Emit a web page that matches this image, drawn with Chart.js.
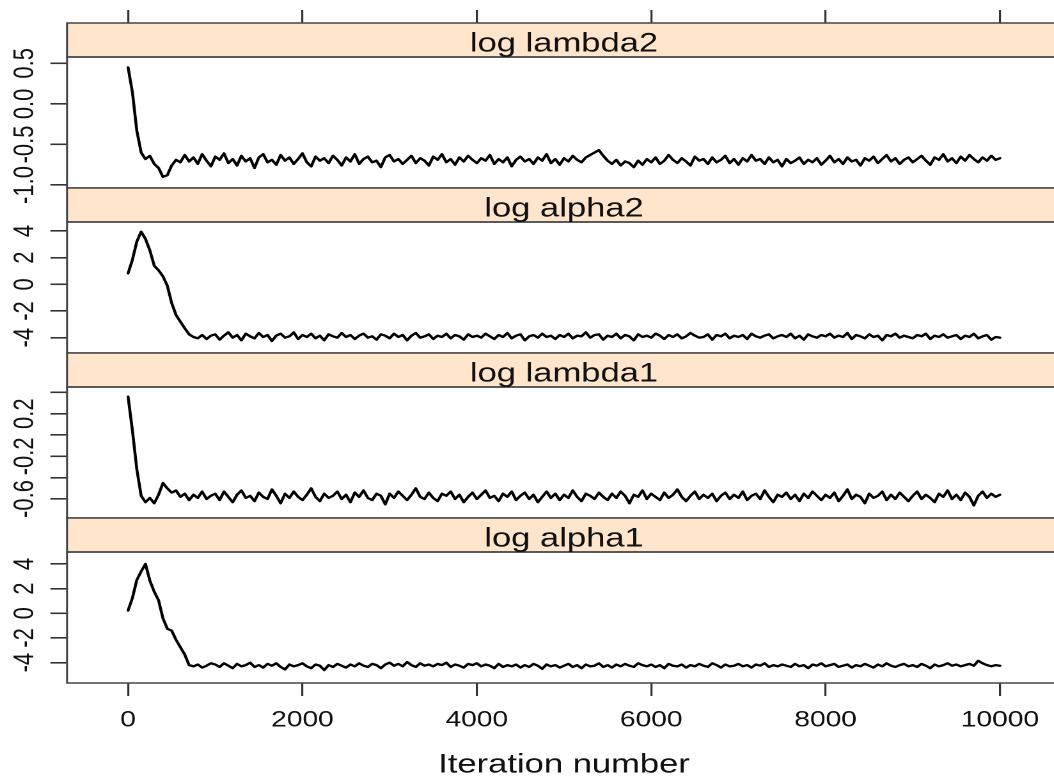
<!DOCTYPE html>
<html>
<head>
<meta charset="utf-8">
<title>MCMC traces</title>
<script src="https://cdn.jsdelivr.net/npm/chart.js@4/dist/chart.umd.min.js"></script>
<style>
  html, body { margin: 0; padding: 0; overflow: hidden; background: #fff; }
  body { width: 1054px; height: 783px; }
  /* the reference is stretched sideways, so the canvas is drawn narrow and widened */
  #wrap { width: 832px; height: 783px; transform: scaleX(1.2791); transform-origin: 0 0; }
</style>
</head>
<body>
<div id="wrap"><canvas id="traces" width="832" height="783"></canvas></div>
<script>
// Iterations (every 50th draw of the chain)
const iterations = [
  0, 50, 100, 150, 200, 250, 300, 350, 400, 450,
  500, 550, 600, 650, 700, 750, 800, 850, 900, 950,
  1000, 1050, 1100, 1150, 1200, 1250, 1300, 1350, 1400, 1450,
  1500, 1550, 1600, 1650, 1700, 1750, 1800, 1850, 1900, 1950,
  2000, 2050, 2100, 2150, 2200, 2250, 2300, 2350, 2400, 2450,
  2500, 2550, 2600, 2650, 2700, 2750, 2800, 2850, 2900, 2950,
  3000, 3050, 3100, 3150, 3200, 3250, 3300, 3350, 3400, 3450,
  3500, 3550, 3600, 3650, 3700, 3750, 3800, 3850, 3900, 3950,
  4000, 4050, 4100, 4150, 4200, 4250, 4300, 4350, 4400, 4450,
  4500, 4550, 4600, 4650, 4700, 4750, 4800, 4850, 4900, 4950,
  5000, 5050, 5100, 5150, 5200, 5250, 5300, 5350, 5400, 5450,
  5500, 5550, 5600, 5650, 5700, 5750, 5800, 5850, 5900, 5950,
  6000, 6050, 6100, 6150, 6200, 6250, 6300, 6350, 6400, 6450,
  6500, 6550, 6600, 6650, 6700, 6750, 6800, 6850, 6900, 6950,
  7000, 7050, 7100, 7150, 7200, 7250, 7300, 7350, 7400, 7450,
  7500, 7550, 7600, 7650, 7700, 7750, 7800, 7850, 7900, 7950,
  8000, 8050, 8100, 8150, 8200, 8250, 8300, 8350, 8400, 8450,
  8500, 8550, 8600, 8650, 8700, 8750, 8800, 8850, 8900, 8950,
  9000, 9050, 9100, 9150, 9200, 9250, 9300, 9350, 9400, 9450,
  9500, 9550, 9600, 9650, 9700, 9750, 9800, 9850, 9900, 9950,
  10000
];

const lambda2 = [
  0.45, 0.14, -0.33, -0.60, -0.68, -0.64, -0.74, -0.79, -0.90, -0.88,
  -0.76, -0.69, -0.72, -0.63, -0.71, -0.66, -0.74, -0.62, -0.70, -0.77,
  -0.65, -0.69, -0.61, -0.73, -0.68, -0.76, -0.64, -0.71, -0.67, -0.79,
  -0.66, -0.62, -0.72, -0.69, -0.75, -0.63, -0.70, -0.66, -0.74, -0.68,
  -0.61, -0.72, -0.77, -0.65, -0.70, -0.67, -0.73, -0.64, -0.69, -0.76,
  -0.66, -0.71, -0.62, -0.74, -0.68, -0.65, -0.72, -0.70, -0.78, -0.66,
  -0.63, -0.71, -0.68, -0.74, -0.69, -0.64, -0.73, -0.67, -0.70, -0.76,
  -0.65, -0.69, -0.62, -0.72, -0.68, -0.75, -0.66, -0.71, -0.64, -0.69,
  -0.73, -0.67, -0.70, -0.63, -0.74, -0.68, -0.72, -0.66, -0.77, -0.69,
  -0.65, -0.71, -0.68, -0.74, -0.66, -0.70, -0.62, -0.73, -0.68, -0.75,
  -0.67, -0.71, -0.64, -0.69, -0.72, -0.66, -0.63, -0.60, -0.57, -0.64,
  -0.70, -0.74, -0.69, -0.76, -0.71, -0.73, -0.78, -0.70, -0.75, -0.68,
  -0.72, -0.66, -0.74, -0.70, -0.63, -0.69, -0.73, -0.67, -0.71, -0.76,
  -0.65, -0.70, -0.68, -0.74, -0.66, -0.72, -0.69, -0.64, -0.73, -0.68,
  -0.75, -0.67, -0.71, -0.63, -0.70, -0.68, -0.74, -0.66, -0.72, -0.69,
  -0.77, -0.68, -0.73, -0.70, -0.66, -0.74, -0.69, -0.72, -0.67, -0.75,
  -0.70, -0.64, -0.72, -0.68, -0.74, -0.66, -0.71, -0.69, -0.76, -0.67,
  -0.70, -0.65, -0.73, -0.68, -0.63, -0.71, -0.67, -0.74, -0.69, -0.66,
  -0.72, -0.68, -0.64, -0.70, -0.75, -0.66, -0.69, -0.62, -0.71, -0.67,
  -0.73, -0.65, -0.70, -0.63, -0.68, -0.72, -0.66, -0.70, -0.64, -0.69,
  -0.67
];

const alpha2 = [
  0.82, 1.85, 3.20, 3.95, 3.40, 2.55, 1.40, 1.05, 0.60, -0.10,
  -1.40, -2.30, -2.80, -3.30, -3.75, -3.95, -4.05, -3.80, -4.10, -3.85,
  -3.75, -4.15, -3.85, -3.60, -4.00, -3.80, -4.20, -3.70, -3.90, -4.05,
  -3.65, -3.95, -3.80, -4.25, -3.85, -3.70, -4.00, -3.90, -3.60, -4.10,
  -3.80, -3.95, -3.70, -4.05, -3.85, -4.20, -3.75, -3.90, -4.00, -3.65,
  -3.95, -3.80, -4.10, -3.85, -3.70, -4.00, -3.90, -4.15, -3.75, -3.85,
  -4.05, -3.70, -3.95, -3.80, -4.20, -3.85, -3.65, -4.00, -3.90, -3.75,
  -4.10, -3.85, -3.95, -3.70, -4.05, -3.80, -3.90, -4.15, -3.75, -3.95,
  -3.85, -4.00, -3.70, -3.90, -4.10, -3.80, -3.95, -3.65, -4.05, -3.85,
  -3.75, -4.20, -3.90, -3.80, -4.00, -3.70, -3.95, -3.85, -4.10, -3.80,
  -3.95, -3.70, -4.05, -3.85, -3.90, -3.60, -4.00, -3.80, -3.75, -4.15,
  -3.85, -3.95, -3.70, -4.05, -3.80, -3.90, -4.20, -3.75, -3.95, -3.85,
  -4.00, -3.70, -3.85, -4.10, -3.80, -3.95, -3.75, -4.05, -3.90, -3.65,
  -3.85, -4.00, -3.95, -3.75, -4.15, -3.80, -3.90, -3.70, -4.05, -3.85,
  -3.95, -3.80, -4.10, -3.70, -3.90, -4.00, -3.85, -3.75, -4.05, -3.90,
  -3.80, -3.95, -3.70, -4.05, -3.85, -4.15, -3.75, -3.90, -4.00, -3.80,
  -3.90, -3.70, -4.00, -3.85, -3.95, -3.65, -4.10, -3.80, -3.90, -4.05,
  -3.75, -3.95, -3.85, -4.20, -3.80, -3.90, -3.70, -4.00, -3.85, -3.95,
  -4.05, -3.80, -3.90, -3.70, -4.10, -3.85, -3.95, -3.75, -4.00, -3.90,
  -3.80, -4.10, -3.85, -3.95, -3.70, -4.05, -3.90, -3.80, -4.15, -3.95,
  -4.00
];

const lambda1 = [
  0.36, 0.04, -0.32, -0.57, -0.63, -0.59, -0.64, -0.56, -0.45, -0.50,
  -0.54, -0.52, -0.58, -0.55, -0.61, -0.56, -0.59, -0.53, -0.60, -0.57,
  -0.55, -0.61, -0.53, -0.58, -0.63, -0.56, -0.52, -0.59, -0.57, -0.62,
  -0.54, -0.58, -0.60, -0.51, -0.57, -0.64, -0.55, -0.59, -0.53, -0.58,
  -0.61, -0.56, -0.50, -0.58, -0.62, -0.55, -0.59, -0.57, -0.53, -0.60,
  -0.56, -0.63, -0.54, -0.58, -0.52, -0.59, -0.61, -0.55, -0.57, -0.65,
  -0.55, -0.59, -0.53, -0.57, -0.61, -0.56, -0.50, -0.58, -0.60, -0.54,
  -0.59, -0.62, -0.55, -0.57, -0.53, -0.60, -0.56, -0.63, -0.58, -0.54,
  -0.60, -0.56, -0.52, -0.59, -0.57, -0.62, -0.55, -0.58, -0.53, -0.61,
  -0.57, -0.54, -0.60, -0.56, -0.63, -0.58, -0.53, -0.59, -0.55, -0.61,
  -0.56, -0.59, -0.52, -0.58, -0.62, -0.55, -0.57, -0.60, -0.54, -0.58,
  -0.61, -0.55, -0.59, -0.53, -0.57, -0.64, -0.56, -0.58, -0.52, -0.60,
  -0.55, -0.58, -0.61, -0.54, -0.59, -0.56, -0.51, -0.58, -0.62, -0.57,
  -0.53, -0.60, -0.56, -0.59, -0.55, -0.62, -0.57, -0.54, -0.60, -0.56,
  -0.59, -0.53, -0.61, -0.57, -0.55, -0.60, -0.52, -0.58, -0.63, -0.56,
  -0.58, -0.54, -0.60, -0.56, -0.62, -0.55, -0.59, -0.53, -0.57, -0.61,
  -0.56, -0.59, -0.54, -0.62, -0.57, -0.51, -0.60, -0.56, -0.58, -0.64,
  -0.55, -0.59, -0.57, -0.53, -0.61, -0.56, -0.60, -0.54, -0.58, -0.62,
  -0.57, -0.53, -0.60, -0.56, -0.59, -0.63, -0.55, -0.58, -0.52, -0.60,
  -0.56, -0.61, -0.54, -0.58, -0.66, -0.57, -0.53, -0.59, -0.55, -0.58,
  -0.56
];

const alpha1 = [
  0.22, 1.25, 2.70, 3.40, 4.00, 2.65, 1.75, 1.05, -0.40, -1.25,
  -1.40, -2.15, -2.75, -3.35, -4.20, -4.30, -4.15, -4.40, -4.25, -4.05,
  -4.15, -4.35, -4.05, -4.25, -4.45, -4.10, -4.30, -4.20, -4.00, -4.35,
  -4.20, -4.40, -4.10, -4.25, -4.05, -4.35, -4.55, -4.15, -4.30, -4.20,
  -4.05, -4.30, -4.45, -4.15, -4.25, -4.60, -4.20, -4.35, -4.10, -4.25,
  -4.40, -4.15, -4.30, -4.05, -4.25, -4.35, -4.10, -4.20, -4.45, -4.15,
  -4.00, -4.25, -4.10, -4.30, -3.95, -4.20, -4.35, -4.05, -4.25, -4.15,
  -4.30, -4.10, -4.20, -4.00, -4.35, -4.15, -4.25, -4.40, -4.10, -4.20,
  -4.05, -4.30, -4.15, -4.25, -4.45, -4.10, -4.35, -4.20, -4.30, -4.15,
  -4.40, -4.20, -4.35, -4.10, -4.25, -4.50, -4.15, -4.30, -4.20, -4.40,
  -4.25, -4.10, -4.35, -4.20, -4.45, -4.15, -4.30, -4.25, -4.05, -4.35,
  -4.20, -4.40, -4.15, -4.30, -4.10, -4.25, -4.35, -4.05, -4.20, -4.30,
  -4.15, -4.35, -4.20, -4.45, -4.10, -4.25, -4.30, -4.15, -4.40, -4.20,
  -4.30, -4.10, -4.25, -4.35, -4.05, -4.20, -4.40, -4.15, -4.30, -4.25,
  -4.10, -4.30, -4.20, -4.40, -4.15, -4.25, -4.05, -4.35, -4.20, -4.30,
  -4.15, -4.25, -4.35, -4.10, -4.30, -4.20, -4.45, -4.15, -4.25, -4.05,
  -4.30, -4.20, -4.10, -4.35, -4.25, -4.15, -4.40, -4.20, -4.30, -4.10,
  -4.25, -4.40, -4.15, -4.30, -4.05, -4.25, -4.35, -4.20, -4.10, -4.30,
  -4.20, -4.35, -4.10, -4.25, -4.45, -4.15, -4.30, -4.20, -4.05, -4.25,
  -4.15, -4.30, -4.20, -4.10, -4.25, -3.85, -4.05, -4.20, -4.30, -4.20,
  -4.25
];

// Panels top to bottom, with their strip names and y axis ticks
const panelNames = ["log lambda2", "log alpha2", "log lambda1", "log alpha1"];
const xTicks = [0, 2000, 4000, 6000, 8000, 10000];
const lambda2Ticks = [-1.0, -0.5, 0.0, 0.5];
const lambda2Labels = ["-1.0", "-0.5", "0.0", "0.5"];
const alpha2Ticks = [-4, -2, 0, 2, 4];
const alpha2Labels = ["-4", "-2", "0", "2", "4"];
const lambda1Ticks = [-0.6, -0.4, -0.2, 0.0, 0.2, 0.4];
const lambda1Labels = ["-0.6", "", "-0.2", "", "0.2", ""];
const alpha1Ticks = [-4, -2, 0, 2, 4];
const alpha1Labels = ["-4", "-2", "0", "2", "4"];

const panels = [
  { name: panelNames[0], values: lambda2, min: -1.037, max: 0.578, ticks: lambda2Ticks, labels: lambda2Labels },
  { name: panelNames[1], values: alpha2, min: -5.15, max: 4.675, ticks: alpha2Ticks, labels: alpha2Labels },
  { name: panelNames[2], values: lambda1, min: -0.778, max: 0.45, ticks: lambda1Ticks, labels: lambda1Labels },
  { name: panelNames[3], values: alpha1, min: -5.65, max: 4.97, ticks: alpha1Ticks, labels: alpha1Labels },
];

const FONT = "'Liberation Sans', Arial, sans-serif";
const INK = "#111";
const FRAME = "#444";
const STRIP_BG = "#ffe5cc";
const AXIS_W = 52.4;

Chart.defaults.font.family = FONT;
Chart.defaults.color = INK;

const fixWidth = (scale) => { scale.width = AXIS_W; };
const tickMarks = { drawOnChartArea: false, drawTicks: true, tickLength: 13, color: "#333", lineWidth: 1.6 };

// x axes: ticks only on top, ticks + labels + title at the bottom
const scales = {
  x: {
    type: "linear", axis: "x", position: "bottom",
    min: -700, max: 10700,
    afterBuildTicks: (s) => { s.ticks = xTicks.map((v) => ({ value: v })); },
    afterFit: (s) => { s.height = 100; },
    grid: tickMarks,
    border: { display: false },
    ticks: { font: { size: 22 }, padding: 11, maxRotation: 0, autoSkip: false, callback: (v) => String(v) },
    title: { display: true, text: "Iteration number", font: { size: 27 }, padding: { top: 0, bottom: 2 } },
  },
  x2: {
    type: "linear", axis: "x", position: "top",
    min: -700, max: 10700,
    afterBuildTicks: (s) => { s.ticks = xTicks.map((v) => ({ value: v })); },
    afterFit: (s) => { s.height = 13; },
    grid: tickMarks,
    border: { display: false },
    ticks: { display: false },
  },
};

// a strip scale and a data scale per panel, stacked on the left
panels.forEach((p, i) => {
  scales["strip" + i] = {
    type: "linear", axis: "y", position: "left",
    stack: "panels", stackWeight: 34, weight: 8 - 2 * i,
    grid: { display: false }, border: { display: false }, ticks: { display: false },
    afterFit: fixWidth,
  };
  scales["y" + i] = {
    type: "linear", axis: "y", position: "left",
    stack: "panels", stackWeight: 131, weight: 7 - 2 * i,
    min: p.min, max: p.max,
    afterBuildTicks: (s) => { s.ticks = p.ticks.map((v) => ({ value: v })); },
    afterFit: fixWidth,
    grid: tickMarks,
    border: { display: false },
    ticks: { display: false },
  };
});

// Strips, panel frames and the rotated y labels (lattice style)
const latticePanels = {
  id: "latticePanels",
  afterDatasetsDraw(chart) {
    const { ctx, chartArea } = chart;
    const left = chartArea.left;
    const right = chartArea.right;
    ctx.save();
    panels.forEach((p, i) => {
      const strip = chart.scales["strip" + i];
      const y = chart.scales["y" + i];

      ctx.fillStyle = STRIP_BG;
      ctx.fillRect(left, strip.top, right - left, strip.bottom - strip.top);
      ctx.strokeStyle = FRAME;
      ctx.lineWidth = 1.5;
      ctx.strokeRect(left, strip.top, right - left, strip.bottom - strip.top);
      ctx.strokeRect(left, y.top, right - left, y.bottom - y.top);

      ctx.fillStyle = INK;
      ctx.font = "27px " + FONT;
      ctx.textAlign = "center";
      ctx.textBaseline = "alphabetic";
      ctx.fillText(p.name, (left + right) / 2, strip.bottom - 5.5);

      ctx.font = "22px " + FONT;
      p.ticks.forEach((v, j) => {
        if (!p.labels[j]) return;
        ctx.save();
        ctx.translate(26, y.getPixelForValue(v));
        ctx.rotate(-Math.PI / 2);
        ctx.fillText(p.labels[j], 0, 0);
        ctx.restore();
      });
    });
    ctx.restore();
  },
};

const traces = new Chart(document.getElementById("traces"), {
  type: "line",
  data: {
    datasets: panels.map((p, i) => ({
      label: p.name,
      data: iterations.map((it, j) => ({ x: it, y: p.values[j] })),
      xAxisID: "x",
      yAxisID: "y" + i,
      borderColor: "#000",
      borderWidth: 2.3,
      borderJoinStyle: "round",
      borderCapStyle: "round",
      pointRadius: 0,
      tension: 0,
      fill: false,
    })),
  },
  options: {
    responsive: false,
    animation: false,
    devicePixelRatio: 2,
    events: [],
    layout: { padding: { top: 10, right: 2.5, bottom: 0, left: 0 } },
    plugins: { legend: { display: false }, tooltip: { enabled: false }, title: { display: false } },
    scales: scales,
  },
  plugins: [latticePanels],
});
</script>
</body>
</html>
